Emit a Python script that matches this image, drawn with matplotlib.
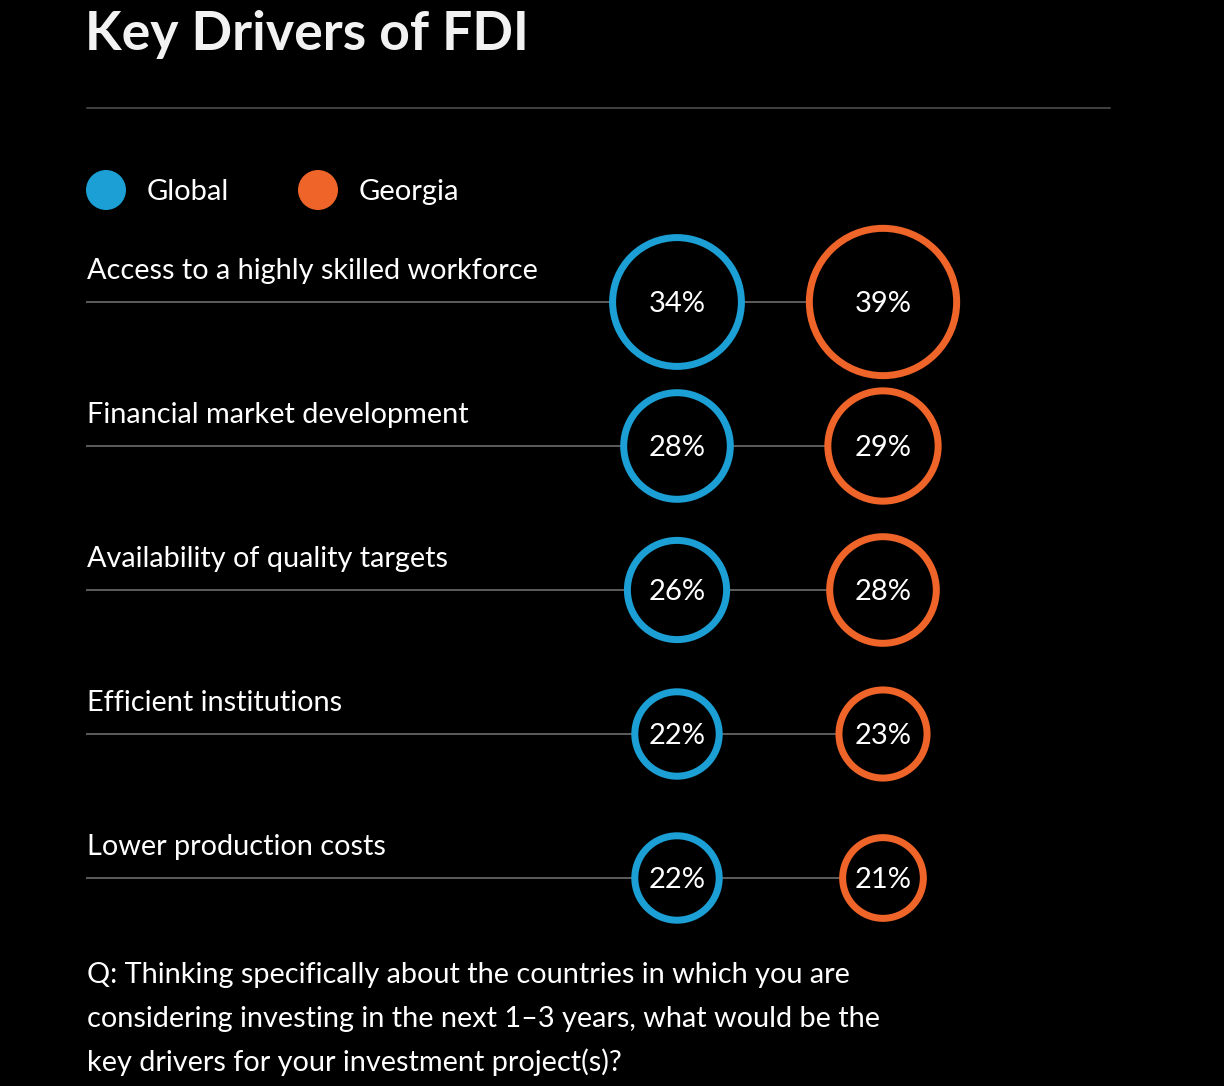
import matplotlib.pyplot as plt
from matplotlib.patches import Circle

plt.rcParams['font.family'] = ['Lato', 'DejaVu Sans']

# data
drivers = ['Access to a highly skilled workforce',
           'Financial market development',
           'Availability of quality targets',
           'Efficient institutions',
           'Lower production costs']
global_pct = [34, 28, 26, 22, 22]
georgia_pct = [39, 29, 28, 23, 21]
series = ['Global', 'Georgia']
colors = ['#1b9fd4', '#ef6428']
title = 'Key Drivers of FDI'
note = ['Q: Thinking specifically about the countries in which you are',
        'considering investing in the next 1\u20133 years, what would be the',
        'key drivers for your investment project(s)?']

W, H = 1224, 1086
fig = plt.figure(figsize=(W / 100, H / 100), dpi=100, facecolor='black')
ax = fig.add_axes([0, 0, 1, 1])
ax.set_facecolor('black')
ax.set_xlim(0, W)
ax.set_ylim(H, 0)
ax.axis('off')

left = 87
col_x = [677, 883]
row0, row_step = 302, 144
ring = 7  # ring thickness in px
px2pt = 72 / 100
fs = 20.8


def outer_radius(v):
    return 1.85 * v + 5


# title and separator
ax.text(left - 2, 50, title, color='#f2f2f2', fontsize=38.5, fontweight='bold',
        va='baseline', ha='left')
ax.plot([left, 1110], [108, 108], color='#555555', lw=1.5 * px2pt)

# legend
for i, (name, c) in enumerate(zip(series, colors)):
    cx = 106 + i * 212
    ax.add_patch(Circle((cx, 190), 20, facecolor=c, edgecolor='none'))
    ax.text(cx + 41, 200, name, color='white', fontsize=21, va='baseline', ha='left')

# rows
for i, label in enumerate(drivers):
    y = row0 + i * row_step
    ax.text(left, y - 23, label, color='white', fontsize=fs, va='baseline', ha='left')
    ax.plot([left, col_x[1]], [y, y], color='#5a5a5a', lw=2 * px2pt, zorder=1)
    for j, vals in enumerate([global_pct, georgia_pct]):
        v = vals[i]
        r = outer_radius(v) - ring / 2
        ax.add_patch(Circle((col_x[j], y), r, facecolor='black', edgecolor=colors[j],
                            lw=ring * px2pt, zorder=2))
        ax.text(col_x[j], y + 10, f'{v}%', color='white', fontsize=21,
                va='baseline', ha='center', zorder=3)

# footnote
for k, line in enumerate(note):
    ax.text(left, 983 + k * 44, line, color='white', fontsize=fs, va='baseline', ha='left')

fig.savefig('out.png', dpi=100, facecolor='black')
